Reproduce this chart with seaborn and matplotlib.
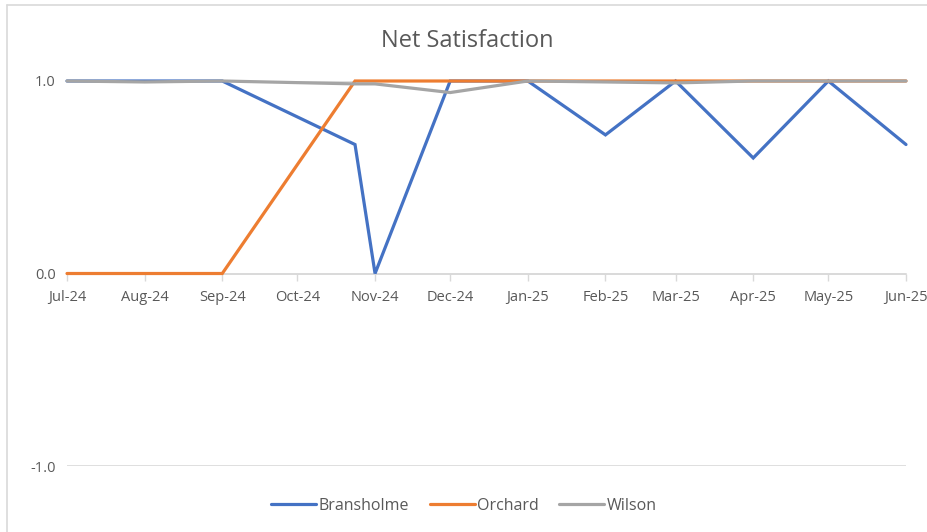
import pandas as pd
import seaborn as sns
import matplotlib.pyplot as plt
import matplotlib.dates as mdates
from matplotlib.lines import Line2D

# data
dates = ['2024-07-01', '2024-08-01', '2024-09-01', '2024-10-24', '2024-11-01', '2024-12-01',
         '2025-01-01', '2025-02-01', '2025-03-01', '2025-04-01', '2025-05-01', '2025-06-01']
bransholme = [1.0, 1.0, 1.0, 0.67, 0.0, 1.0, 1.0, 0.72, 1.0, 0.6, 1.0, 0.67]
orchard = [0.0, 0.0, 0.0, 1.0, 1.0, 1.0, 1.0, 1.0, 1.0, 1.0, 1.0, 1.0]
wilson = [1.0, 0.995, 1.0, 0.985, 0.985, 0.94, 1.0, 0.995, 0.99, 1.0, 1.0, 1.0]
series_names = ['Bransholme', 'Orchard', 'Wilson']
y_ticks = [-1.0, 0.0, 1.0]

df = pd.DataFrame({'date': pd.to_datetime(dates),
                   'Bransholme': bransholme, 'Orchard': orchard, 'Wilson': wilson})
df_long = df.melt(id_vars='date', value_vars=series_names, var_name='site', value_name='value')

sns.set_theme(style='white')
plt.rcParams['font.family'] = ['Open Sans', 'DejaVu Sans']

text_col = '#595959'
grid_col = '#D9D9D9'

fig = plt.figure(figsize=(9.28, 5.32), dpi=100)
ax = fig.add_axes([67 / 928, 1 - 466 / 532, (906 - 67) / 928, (466 - 81) / 532])

sns.lineplot(data=df_long, x='date', y='value', hue='site', hue_order=series_names,
             palette=['#4472C4', '#ED7D31', '#A5A5A5'], linewidth=2.3, ax=ax, legend=True)
for ln in ax.lines:
    ln.set_clip_on(False)
    ln.set_solid_joinstyle('miter')

ax.set_xlim(df['date'].min(), df['date'].max())
ax.set_ylim(-1, 1)
ax.set_yticks(y_ticks)
ax.set_yticklabels([f'{v:.1f}' for v in y_ticks])
ax.yaxis.grid(True, color=grid_col, linewidth=1.2)
ax.set_axisbelow(True)

ax.xaxis.set_major_locator(mdates.MonthLocator())
ax.xaxis.set_major_formatter(mdates.DateFormatter('%b-%y'))

for s in ['top', 'right', 'left']:
    ax.spines[s].set_visible(False)
ax.spines['bottom'].set_position(('data', 0))
ax.spines['bottom'].set_color(grid_col)
ax.spines['bottom'].set_linewidth(1.2)
ax.spines['bottom'].set_zorder(0.5)

ax.tick_params(axis='x', direction='out', length=5, width=1, color=grid_col,
               labelsize=10.5, labelcolor=text_col, pad=7, bottom=True)
ax.tick_params(axis='y', length=0, labelsize=10.5, labelcolor=text_col, pad=8)
ax.set_xlabel('')
ax.set_ylabel('')

fig.text(467 / 928, 1 - 41 / 532, 'Net Satisfaction', ha='center', va='center',
         fontsize=17, color=text_col)

handles, labels = ax.get_legend_handles_labels()
ax.get_legend().remove()
fig.legend(handles, labels, loc='center', bbox_to_anchor=(0.5, 1 - 506 / 532), ncol=3,
           frameon=False, fontsize=11.5, handlelength=2.8, handletextpad=0.15,
           columnspacing=1.3, labelcolor=text_col)

# chart frame
fig.add_artist(Line2D([7 / 928, 1], [1 - 5 / 532, 1 - 5 / 532], color=grid_col,
                      linewidth=1.2, transform=fig.transFigure))
fig.add_artist(Line2D([7 / 928, 7 / 928], [0, 1 - 5 / 532], color=grid_col,
                      linewidth=1.2, transform=fig.transFigure))

fig.savefig('out.png', dpi=100)
